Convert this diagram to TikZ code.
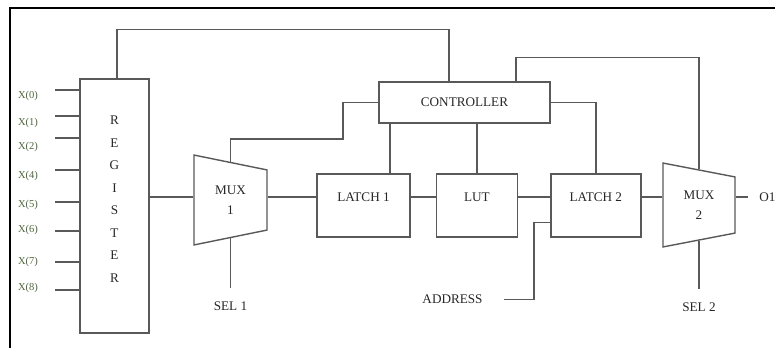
\documentclass[tikz,border=0pt]{standalone}
\usepackage{fontspec}
\setmainfont{Liberation Serif}
\usepackage{tikz}
\usetikzlibrary{positioning, shapes.geometric, calc}
\usepackage{xcolor}
\definecolor{pinlbl}{RGB}{78,104,58}

\begin{document}
\begin{tikzpicture}[
    node distance=0.5cm,
    wire/.style={draw=black!65, line width=0.8pt},
    box/.style={draw=black!65, line width=0.8pt, inner sep=1pt, text=black!85,
                font=\fontsize{7.5}{9}\selectfont},
    blk/.style={box, minimum height=1.26cm, text height=0.2cm, text depth=0.35cm},
    mux/.style={box, trapezium, trapezium stretches=true, shape border rotate=270,
                trapezium angle=77, align=center, font=\fontsize{7.5}{11.3}\selectfont},
    lbl/.style={text=black!85, font=\fontsize{7.5}{9}\selectfont},
    inlbl/.style={text=pinlbl, font=\fontsize{6}{7}\selectfont},
]
\useasboundingbox (0,0) rectangle (15.5,-6.96);

\node[box, minimum width=1.38cm, minimum height=5.08cm,
      label={[lbl, align=center, yshift=0.14cm, font=\fontsize{7.5}{12.8}\selectfont]center:R\\E\\G\\I\\S\\T\\E\\R}]
      (reg) at (2.29,-4.12) {};
\node[mux, minimum width=1.8cm, minimum height=1.46cm] (mux1) at (4.61,-4.0) {MUX\\1};
\node[blk, minimum width=1.86cm] (latch1) at (7.27,-4.11) {LATCH 1};
\node[blk, minimum width=1.62cm, right=of latch1] (lut) {LUT};
\node[blk, minimum width=1.8cm, right=0.64cm of lut] (latch2) {LATCH 2};
\node[mux, minimum width=1.68cm, minimum height=1.44cm] (mux2) at (13.98,-4.10) {MUX\\2};
\node[box, minimum width=3.42cm, minimum height=0.82cm] (ctrl) at (9.29,-2.05) {CONTROLLER};

\coordinate (row) at (0,-3.94);

% data path
\draw[wire] (reg.east |- row) -- (mux1.180 |- row);
\draw[wire] (mux1.0 |- row) -- (latch1.west |- row);
\draw[wire] (latch1.east |- row) -- (lut.west |- row);
\draw[wire] (lut.east |- row) -- (latch2.west |- row);
\draw[wire] (latch2.east |- row) -- (mux2.180 |- row);
\draw[wire] (mux2.0 |- row) -- ++(0.24,0) node[lbl, right=0.1cm] (out) {O1};

% control lines
\draw[wire] ([xshift=0.05cm]reg.north) -- ++(0,0.98) -| ([xshift=-0.31cm]ctrl.north);
\draw[wire] (mux1.90) |- (6.86,-2.78) |- (ctrl.west);
\draw[wire] ([xshift=0.53cm]latch1.north) -- ([xshift=0.53cm]latch1.north |- ctrl.south);
\draw[wire] (lut.north) -- (lut.north |- ctrl.south);
\draw[wire] (ctrl.east) -| (latch2.north);
\draw[wire] ([xshift=1.03cm]ctrl.north) -- ++(0,0.48) -| (mux2.90);

% selects and address
\draw[wire] (mux1.270) -- ++(0,-0.99) node[lbl, below=0.14cm] (sel1) {SEL 1};
\draw[wire] (mux2.270) -- ++(0,-0.96) node[lbl, below=0.14cm] (sel2) {SEL 2};
\draw[wire] ([yshift=-0.34cm]latch2.west) -| ++(-0.32,-1.54) -- ++(-0.6,0)
    node[lbl, left=0.3cm] (addr) {ADDRESS};

% inputs
\foreach \n/\ly/\ty in {0/1.80/1.92, 1/2.32/2.46, 2/2.76/2.94, 4/3.40/3.52,
                        5/4.04/4.10, 6/4.62/4.60, 7/5.24/5.24, 8/5.80/5.76} {
  \node[inlbl] (x\n) at (0.56,-\ty) {X(\n)};
  \coordinate (pin\n) at (1.10,-\ly);
  \draw[wire] (pin\n) -- (pin\n -| reg.west);
}

% frame
\draw[line width=1.2pt] (0.2,-6.96) -- (0.2,-0.16) -- (15.5,-0.16);
\end{tikzpicture}
\end{document}
